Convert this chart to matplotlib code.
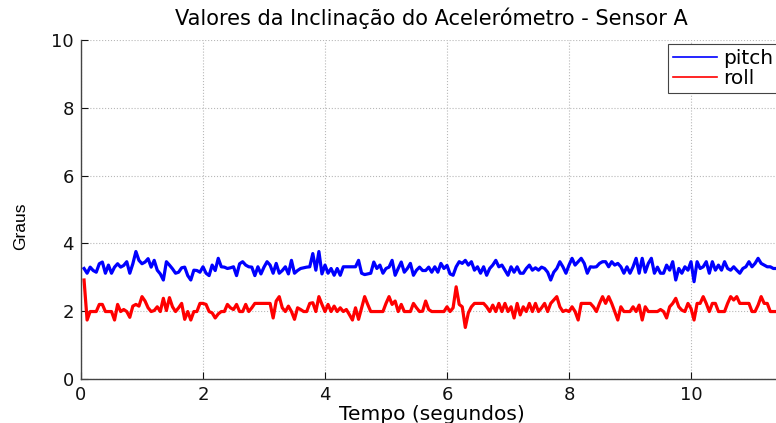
import numpy as np
import matplotlib
matplotlib.use('Agg')
import matplotlib.pyplot as plt
from matplotlib.lines import Line2D

# sample period of the sensor (s)
dt = 0.05

pitch = [
    # 0.05 - 1.85
    3.26, 3.12, 3.30, 3.20, 3.15, 3.40, 3.45, 3.12, 3.36, 3.12,
    3.30, 3.40, 3.30, 3.35, 3.46, 3.12, 3.40, 3.76, 3.50, 3.40,
    3.45, 3.55, 3.30, 3.50, 3.21, 3.10, 2.92, 3.46, 3.36, 3.25,
    3.12, 3.15, 3.28, 3.30, 3.05, 2.92, 3.21,
    # 1.90 - 3.75
    3.20, 3.15, 3.31, 3.12, 3.05, 3.36, 3.20, 3.56, 3.31, 3.30,
    3.26, 3.28, 3.31, 3.05, 3.40, 3.46, 3.36, 3.31, 3.30, 3.05,
    3.31, 3.10, 3.30, 3.46, 3.36, 3.12, 3.41, 3.12, 3.20, 3.31,
    3.10, 3.50, 3.12, 3.20, 3.26, 3.28, 3.30, 3.31,
    # 3.80 - 5.60
    3.70, 3.21, 3.76, 3.10, 3.36, 3.12, 3.26, 3.06, 3.26, 3.06,
    3.31, 3.31, 3.31, 3.31, 3.31, 3.50, 3.12, 3.08, 3.10, 3.12,
    3.45, 3.26, 3.36, 3.12, 3.26, 3.30, 3.50, 3.06, 3.26, 3.45,
    3.15, 3.26, 3.41, 3.06, 3.21, 3.30, 3.20,
    # 5.65 - 7.55
    3.20, 3.30, 3.15, 3.31, 3.15, 3.41, 3.26, 3.35, 3.10, 3.06,
    3.31, 3.46, 3.41, 3.50, 3.36, 3.46, 3.21, 3.31, 3.12, 3.31,
    3.06, 3.26, 3.36, 3.50, 3.31, 3.36, 3.21, 3.06, 3.31, 3.15,
    3.31, 3.12, 3.12, 3.26, 3.36, 3.21, 3.28, 3.21, 3.30,
    # 7.60 - 9.45
    3.26, 3.15, 2.92, 3.15, 3.26, 3.46, 3.31, 3.12, 3.36, 3.56,
    3.36, 3.46, 3.56, 3.41, 3.12, 3.31, 3.30, 3.31, 3.41, 3.46,
    3.46, 3.31, 3.46, 3.36, 3.41, 3.31, 3.12, 3.31, 3.12, 3.31,
    3.56, 3.12, 3.56, 3.15, 3.41, 3.56, 3.12, 3.30,
    # 9.50 - 11.50
    3.12, 3.12, 3.36, 3.21, 3.46, 2.92, 3.26, 3.12, 3.31, 3.21,
    3.46, 2.87, 3.46, 3.26, 3.31, 3.46, 3.12, 3.46, 3.21, 3.36,
    3.21, 3.46, 3.26, 3.21, 3.31, 3.21, 3.12, 3.26, 3.31, 3.46,
    3.31, 3.41, 3.56, 3.41, 3.36, 3.31, 3.31, 3.26, 3.26, 3.26,
    3.26,
]

roll = [
    # 0.05 - 1.85
    2.92, 1.74, 1.99, 1.99, 1.99, 2.20, 2.20, 1.99, 1.99, 1.99,
    1.74, 2.20, 1.99, 2.05, 1.99, 1.82, 2.15, 2.20, 2.15, 2.43,
    2.30, 2.10, 1.99, 2.02, 2.13, 1.99, 2.38, 2.02, 2.40, 2.13,
    1.99, 2.10, 2.23, 1.76, 1.99, 1.74, 1.99,
    # 1.90 - 3.75
    1.99, 2.23, 2.23, 2.20, 1.99, 1.95, 1.80, 1.92, 1.99, 1.99,
    2.20, 2.10, 2.05, 2.20, 1.99, 1.99, 2.20, 1.99, 2.10, 2.23,
    2.23, 2.23, 2.23, 2.23, 2.23, 1.80, 2.30, 2.43, 2.10, 1.99,
    2.15, 1.99, 1.76, 2.10, 2.05, 1.99, 1.99, 2.23,
    # 3.80 - 5.60
    2.25, 1.99, 2.43, 2.20, 1.99, 2.20, 1.99, 2.15, 1.99, 2.10,
    1.99, 2.05, 1.90, 1.74, 2.10, 1.76, 2.10, 2.43, 2.20, 1.99,
    1.99, 1.99, 1.99, 1.99, 2.23, 2.43, 2.20, 2.30, 1.99, 2.20,
    1.99, 1.99, 1.99, 2.23, 2.10, 1.99, 2.00,
    # 5.65 - 7.55
    2.30, 2.05, 1.99, 1.99, 1.99, 1.99, 1.99, 2.13, 1.99, 2.10,
    2.72, 2.20, 2.13, 1.52, 1.95, 2.13, 2.23, 2.23, 2.23, 2.23,
    2.13, 1.99, 2.18, 1.99, 2.23, 1.99, 2.23, 1.99, 2.13, 1.80,
    2.23, 1.89, 2.13, 1.99, 2.23, 1.99, 2.23, 1.99, 2.10,
    # 7.60 - 9.45
    2.23, 1.99, 2.23, 2.33, 2.43, 2.13, 1.99, 2.03, 1.99, 2.13,
    1.99, 1.74, 2.23, 2.23, 2.23, 2.23, 2.13, 1.99, 2.23, 2.43,
    2.23, 2.43, 2.23, 1.99, 1.74, 2.13, 1.99, 1.99, 1.99, 2.13,
    1.99, 2.18, 1.74, 2.13, 1.99, 1.99, 1.99, 1.99,
    # 9.50 - 11.50
    2.05, 1.99, 1.80, 2.13, 2.23, 2.38, 2.13, 2.03, 1.99, 2.23,
    2.08, 1.74, 2.23, 2.23, 2.43, 2.23, 1.99, 2.23, 2.23, 1.99,
    1.99, 1.99, 2.23, 2.43, 2.33, 2.43, 2.23, 2.23, 2.23, 2.23,
    1.99, 1.99, 2.18, 2.43, 2.23, 2.23, 1.99, 1.99, 1.99, 1.99,
    1.99,
]

t = dt * np.arange(1, len(pitch) + 1)

plt.rcParams['font.family'] = ['DejaVu Sans']

fig = plt.figure(figsize=(7.76, 4.23), dpi=100)
ax = fig.add_axes([81 / 776, 44 / 423, 11.5 * 61 / 776, 339 / 423])

ax.plot(t, pitch, color='#0000ff', lw=2.3)
ax.plot(t, roll, color='#ff0000', lw=2.3)

ax.set_xlim(0, 11.5)
ax.set_ylim(0, 10)
ax.set_xticks(np.arange(0, 12, 2))
ax.set_yticks(np.arange(0, 11, 2))
ax.grid(True, ls=':', color='#b8b8b8', lw=0.8)
ax.tick_params(direction='in', length=5, width=0.8, labelsize=13, colors='#111111', pad=5)
for s in ['top', 'right']:
    ax.spines[s].set_visible(False)
for s in ['left', 'bottom']:
    ax.spines[s].set_color('#444444')
    ax.spines[s].set_linewidth(1.0)

ax.set_title('Valores da Inclinação do Acelerómetro - Sensor A', fontsize=15, pad=11)
ax.set_xlabel('Tempo (segundos)', fontsize=14.5, labelpad=1)
ax.set_ylabel('Graus', fontsize=12.5, family='Liberation Sans')
ax.yaxis.set_label_coords(-0.075, 0.45)

handles = [Line2D([], [], color='#0000ff', lw=1.2), Line2D([], [], color='#ff0000', lw=1.2)]
leg = ax.legend(handles, ['pitch', 'roll'], loc='upper right', bbox_to_anchor=(1, 1),
                borderaxespad=0.2, fontsize=14.5, fancybox=False, framealpha=1,
                handlelength=2.2, handletextpad=0.3, labelspacing=0.05, borderpad=0.25)
leg.get_frame().set_edgecolor('#444444')
leg.get_frame().set_linewidth(0.8)

fig.savefig('out.png', dpi=100)
